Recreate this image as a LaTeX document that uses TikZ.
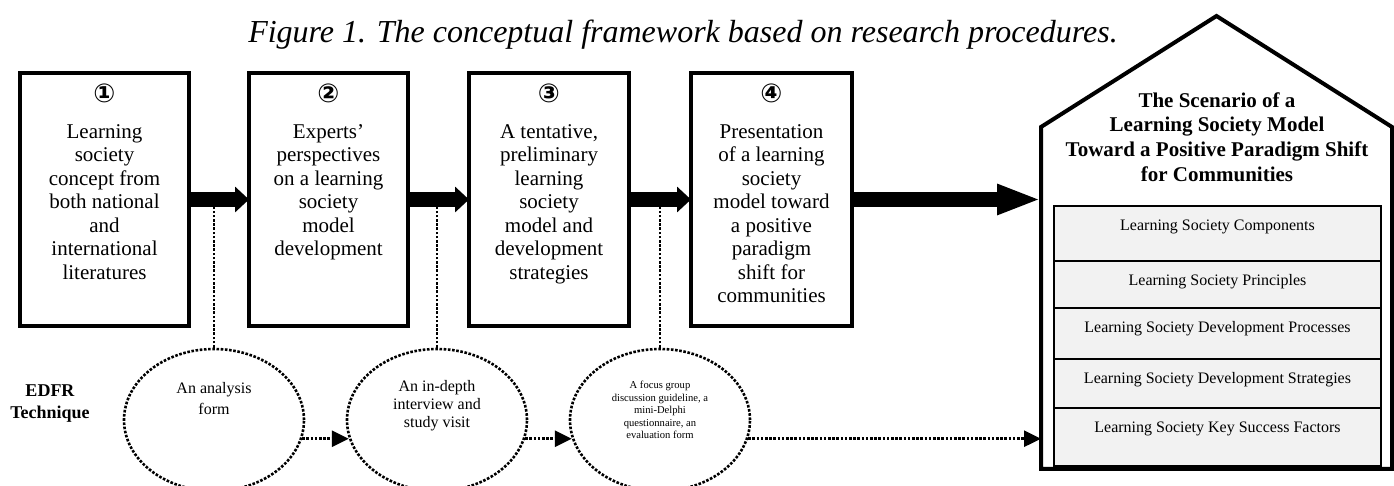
\documentclass[tikz,border=0pt]{standalone}
\usepackage{fontspec}
\setmainfont{Liberation Serif}
\newfontfamily\numfont{DejaVu Sans}
\usetikzlibrary{arrows.meta, positioning, shapes.geometric}
\tikzstyle{stage} = [draw, line width=2pt, rectangle, minimum width=80pt, minimum height=126.5pt, outer sep=0pt]
\tikzstyle{stage text} = [align=center, inner sep=0pt, font=\fontsize{10.5}{11.75}\selectfont]
\tikzstyle{tool} = [
    draw,
    ellipse,
    line width=1.3pt,
    dash pattern=on 1.3pt off 0.8pt,
    minimum width=90pt,
    minimum height=71pt
]
\tikzstyle{tool text} = [align=center, inner sep=0pt, font=\fontsize{8}{9}\selectfont]
\tikzstyle{link} = [line width=1.3pt, dash pattern=on 1.3pt off 0.8pt]
\tikzstyle{link arrow} = [link, -{Triangle[length=8.5pt, width=8pt]}]
\tikzstyle{flow} = [line width=7.5pt, -{Triangle[length=7pt, width=12.5pt]}]
\tikzstyle{big flow} = [line width=7.75pt, -{Triangle[length=22pt, width=14pt]}]
\tikzstyle{house} = [line width=2pt, line join=miter]
\tikzstyle{part} = [
    draw,
    line width=0.8pt,
    fill=gray!10,
    minimum width=163.5pt,
    inner sep=0pt,
    outer sep=0pt,
    text height=12.3pt,
    font=\fontsize{8}{9}\selectfont
]
\newcommand*{\stagenum}[1]{{\numfont\bfseries\fontsize{13}{13}\selectfont #1}}

\begin{document}
\begin{tikzpicture}[x=0.5pt, y=-0.5pt]
    \useasboundingbox (0, 0) rectangle (1394, 486);

    % Caption.
    \node (caption) [font=\itshape\fontsize{16}{19}\selectfont] at (683, 35) {Figure 1. The conceptual framework based on research procedures.};

    % Stages.
    \node (stage 1) [stage, minimum width=84.5pt] at (104.5, 199.5) {};
    \node (stage 2) [stage, minimum width=79.5pt] at (328.5, 199.5) {};
    \node (stage 3) [stage] at (549, 199.5) {};
    \node (stage 4) [stage, minimum width=80.5pt] at (771.5, 199.5) {};

    \node (stage 1 text) [stage text, below=5.5pt of stage 1.north] {\stagenum{①}\\[6pt]Learning\\society\\concept from\\both national\\and\\international\\literatures};
    \node (stage 2 text) [stage text, below=5.5pt of stage 2.north] {\stagenum{②}\\[6pt]Experts’\\perspectives\\on a learning\\society\\model\\development};
    \node (stage 3 text) [stage text, below=5.5pt of stage 3.north] {\stagenum{③}\\[6pt]A tentative,\\preliminary\\learning\\society\\model and\\development\\strategies};
    \node (stage 4 text) [stage text, below=5.5pt of stage 4.north] {\stagenum{④}\\[6pt]Presentation\\of a learning\\society\\model toward\\a positive\\paradigm\\shift for\\communities};

    % Scenario house.
    \node (scenario) [minimum width=175.5pt, minimum height=171pt, inner sep=0pt, outer sep=0pt] at (1216.5, 298) {};
    \coordinate (roof) at (1216.5, 16);
    \draw [house] (scenario.north west) -- (roof) -- (scenario.north east) -- (scenario.south east) -- (scenario.south west) -- cycle;
    \node (scenario title) [align=center, font=\bfseries\fontsize{10.5}{12.35}\selectfont] at (1217, 137) {The Scenario of a\\Learning Society Model\\Toward a Positive Paradigm Shift\\for Communities};

    \node (components) [part, anchor=north, text depth=15.2pt] at (1217.5, 206) {Learning Society Components};
    \node (principles) [part, below=0pt of components, text depth=11.2pt] {Learning Society Principles};
    \node (processes) [part, below=0pt of principles, text depth=13.2pt] {Learning Society Development Processes};
    \node (strategies) [part, below=0pt of processes, text depth=12.2pt] {Learning Society Development Strategies};
    \node (factors) [part, below=0pt of strategies, text depth=16.7pt] {Learning Society Key Success Factors};

    % EDFR tools.
    \node (edfr) [align=center, font=\bfseries\fontsize{9}{11}\selectfont] at (50, 404) {EDFR\\Technique};

    \node (tool 1) [tool] at (214, 420) {};
    \node (tool 2) [tool] at (437, 420) {};
    \node (tool 3) [tool] at (660, 420) {};

    \node (tool 1 text) [tool text, yshift=10.75pt] at (tool 1.center) {An analysis\\[1.5pt]form};
    \node (tool 2 text) [tool text, yshift=7pt] at (tool 2.center) {An in-depth\\interview and\\study visit};
    \node (tool 3 text) [tool text, yshift=5pt, font=\fontsize{5.3}{6.2}\selectfont] at (tool 3.center) {A focus group\\discussion guideline, a\\mini-Delphi\\questionnaire, an\\evaluation form};

    % Paths.
    \draw [link] (tool 1.north) -- (tool 1.north |- stage 1.east);
    \draw [link] (tool 2.north) -- (tool 2.north |- stage 2.east);
    \draw [link] (tool 3.north) -- (tool 3.north |- stage 3.east);

    \draw [flow] (stage 1.east) -- (stage 2.west);
    \draw [flow] (stage 2.east) -- (stage 3.west);
    \draw [flow] (stage 3.east) -- (stage 4.west);
    \draw [big flow] (stage 4.east) -- (stage 4.east -| scenario.west);

    \draw [link arrow] (tool 1.-12) -- (tool 2.192);
    \draw [link arrow] (tool 2.-12) -- (tool 3.192);
    \draw [link arrow] (tool 3.-12) -- (tool 3.-12 -| scenario.west);
\end{tikzpicture}
\end{document}
